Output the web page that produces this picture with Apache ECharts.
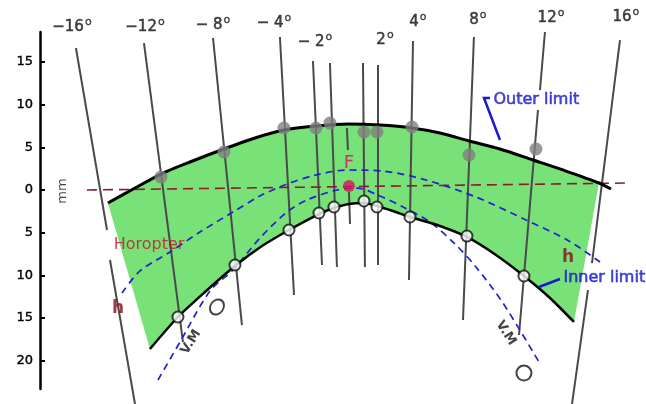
<!DOCTYPE html>
<html><head><meta charset="utf-8">
<script src="https://cdn.jsdelivr.net/npm/echarts@6/dist/echarts.min.js"></script>
<style>html,body{margin:0;padding:0;background:#fff}#c{width:646px;height:404px}</style>
</head><body><div id="c"></div>
<script>
// ---- data (x: lateral units, y: mm; + = far, - = near) ----
const yTickValues = [-20, -15, -10, -5, 0, 5, 10, 15];

const angleLabels = ['\u221216', '\u221212', '\u2212 8', '\u2212 4', '\u2212 2', '2', '4', '8', '12', '16'];
const angleLabelX = [-32.26, -23.70, -15.73, -8.59, -3.78, 4.42, 8.28, 15.31, 23.87, 32.65];
const angleLabelY = [19.08, 19.08, 19.32, 19.55, 17.33, 17.56, 19.67, 19.90, 20.14, 20.26];

// visual-direction lines: [xTop, yTop, xBottom, yBottom]
const radialSegments = [
  [-31.79, 16.63, -28.15, -4.68],
  [-27.80, -8.20, -24.87, -25.06],
  [-23.82, 17.21, -19.25, -17.80],
  [-15.73, 17.80, -12.34, -15.81],
  [-7.89, 17.91, -6.24, -12.29],
  [-4.02, 15.10, -2.96, -8.78],
  [-2.03, 14.87, -1.21, -9.02],
  [-0.04, 7.26, 0.08, 4.68],
  [0.20, -0.23, 0.32, -3.98],
  [1.84, 14.87, 2.07, -9.02],
  [3.60, 14.64, 3.60, -8.78],
  [7.70, 17.45, 7.23, -10.54],
  [14.84, 17.91, 13.56, -15.22],
  [23.16, 18.50, 22.58, 11.71],
  [22.34, 9.37, 20.12, -16.98],
  [31.95, 17.56, 28.67, -8.55],
  [28.20, -11.71, 26.33, -25.06]
];

const outerX = [-28.04, -24.87, -21.83, -18.43, -14.45, -10.81, -7.42, -3.67, 0.08, 3.83, 7.58, 10.86, 14.26, 17.89, 21.76, 25.62, 29.49, 30.90];
const outerY = [-1.52, 0.23, 1.87, 3.28, 4.80, 6.09, 7.02, 7.49, 7.73, 7.61, 7.26, 6.67, 5.74, 4.80, 3.51, 2.22, 0.82, 0.12];

const innerX = [-23.12, -19.84, -16.67, -13.16, -9.99, -6.83, -3.32, -1.56, 0.20, 1.96, 3.48, 5.35, 7.35, 10.86, 14.02, 17.42, 20.70, 23.75, 26.56];
const innerY = [-18.62, -14.87, -11.94, -8.90, -6.56, -4.68, -2.81, -2.11, -1.64, -1.52, -1.87, -2.46, -3.16, -4.21, -5.50, -7.61, -10.07, -12.64, -15.45];

const outerDotX = [-21.83, -14.45, -7.42, -3.67, -2.03, 1.96, 3.48, 7.58, 14.26, 22.11];
const outerDotY = [1.52, 4.45, 7.26, 7.26, 7.84, 6.79, 6.79, 7.38, 4.10, 4.80];

const innerDotX = [-19.84, -13.16, -6.83, -3.32, -1.56, 1.96, 3.48, 7.35, 14.02, 20.70];
const innerDotY = [-14.87, -8.78, -4.68, -2.69, -1.99, -1.29, -1.99, -3.16, -5.39, -10.07];

const hCurveX = [-26.40, -24.29, -20.77, -17.26, -13.39, -10.23, -7.06, -3.67, -0.04, 4.18, 9.22, 15.08, 20.94, 25.97, 29.61];
const hCurveY = [-12.06, -9.48, -7.26, -4.92, -2.58, -0.70, 0.70, 1.76, 2.34, 2.22, 1.17, -0.82, -3.51, -5.97, -8.43];

const vmCurveX = [-22.18, -19.60, -16.09, -13.39, -10.23, -7.06, -4.72, -1.21, 1.14, 3.83, 6.76, 9.69, 12.62, 15.08, 18.24, 22.46];
const vmCurveY = [-22.25, -17.80, -11.83, -9.37, -5.62, -2.58, -1.17, 0.00, 0.23, -0.70, -2.11, -3.75, -6.32, -9.02, -13.23, -20.14];

const horopterX = [-30.50, 33.01];
const horopterY = [0.00, 0.82];

const fixationX = [0.20];
const fixationY = [0.47];

const openCircleX = [-15.27, 20.70];
const openCircleY = [-13.70, -21.43];

const noteTexts = ['Horopter', 'h', 'h', 'Outer limit', 'Inner limit', 'V.M', 'V.M', 'mm'];
const noteX = [-23.23, -26.87, 25.86, 17.07, 25.27, -18.31, 18.59, -33.31];
const noteY = [-6.44, -13.93, -7.96, 10.54, -10.30, -17.80, -16.74, -0.12];

const arrowOuter = [[16.72, 10.77], [16.02, 10.77], [17.89, 5.85]];
const arrowInner = [[24.92, -10.42], [22.46, -11.36]];

// ---- chart ----
const FONT = 'DejaVu Sans';
const zip = (xs, ys) => xs.map((x, i) => [x, ys[i]]);

const noteStyles = [
  {color: '#c8102e', fontSize: 16, position: 'inside'},
  {color: '#8b0a1a', fontSize: 17, fontWeight: 'bold', position: 'inside'},
  {color: '#8b0a1a', fontSize: 17, fontWeight: 'bold', position: 'inside'},
  {color: '#1a1acc', fontSize: 16, position: 'right', textBorderColor: '#1a1acc', textBorderWidth: 0.6},
  {color: '#1a1acc', fontSize: 16, position: 'right', textBorderColor: '#1a1acc', textBorderWidth: 0.6},
  {color: '#111', fontSize: 13, fontWeight: 'bold', position: 'inside', rotate: 58},
  {color: '#111', fontSize: 13, fontWeight: 'bold', position: 'inside', rotate: -58},
  {color: '#111', fontSize: 13, position: 'inside', rotate: 90}
];

const option = {
  animation: false,
  grid: {left: 40, right: 0, top: 32, bottom: 15},
  xAxis: {type: 'value', min: -36, max: 35, show: false},
  yAxis: {
    type: 'value', min: -23.3, max: 18.5,
    axisLine: {show: true, onZero: false, lineStyle: {color: '#000', width: 2.5}},
    axisTick: {show: true, inside: true, length: 5, lineStyle: {color: '#000', width: 2}, customValues: yTickValues},
    axisLabel: {customValues: yTickValues, formatter: v => String(Math.abs(v)), fontSize: 13, fontFamily: FONT,
      color: '#000', margin: 7, textBorderColor: '#000', textBorderWidth: 0.4},
    splitLine: {show: false}
  },
  series: [
    {
      type: 'custom', coordinateSystem: 'cartesian2d', clip: false, silent: true, z: 1,
      data: [[0, 0]],
      renderItem: (params, api) => {
        const pts = [];
        for (let i = 0; i < outerX.length - 1; i++) pts.push(api.coord([outerX[i], outerY[i]]));
        for (let i = innerX.length - 1; i >= 0; i--) pts.push(api.coord([innerX[i], innerY[i]]));
        return {type: 'polygon', shape: {points: pts}, style: {fill: '#78e178'}};
      }
    },
    {
      type: 'lines', coordinateSystem: 'cartesian2d', clip: false, silent: true, z: 2,
      lineStyle: {color: '#4a4a4a', width: 2, opacity: 1},
      data: radialSegments.map(s => ({coords: [[s[0], s[1]], [s[2], s[3]]]}))
    },
    {
      type: 'line', clip: false, silent: true, z: 3, symbol: 'none',
      lineStyle: {color: '#8b1c2c', width: 1.6, type: [10, 6]},
      data: zip(horopterX, horopterY)
    },
    {
      type: 'line', clip: false, silent: true, z: 3, symbol: 'none', smooth: 0.3,
      lineStyle: {color: '#2222cc', width: 1.7, type: [7, 5]},
      data: zip(hCurveX, hCurveY)
    },
    {
      type: 'line', clip: false, silent: true, z: 3, symbol: 'none', smooth: 0.3,
      lineStyle: {color: '#2222cc', width: 1.7, type: [7, 5]},
      data: zip(vmCurveX, vmCurveY)
    },
    {
      type: 'line', clip: false, silent: true, z: 4, symbol: 'none', smooth: 0.25,
      lineStyle: {color: '#000', width: 3},
      data: zip(outerX, outerY)
    },
    {
      type: 'line', clip: false, silent: true, z: 4, symbol: 'none', smooth: 0.25,
      lineStyle: {color: '#000', width: 2.5},
      data: zip(innerX, innerY)
    },
    {
      type: 'lines', coordinateSystem: 'cartesian2d', clip: false, silent: true, z: 5,
      polyline: true, symbol: ['none', 'arrow'], symbolSize: 10,
      lineStyle: {color: '#1a1acc', width: 2.5, opacity: 1},
      data: [{coords: arrowOuter}, {coords: arrowInner}]
    },
    {
      type: 'scatter', clip: false, silent: true, z: 6, symbol: 'circle', symbolSize: 13,
      itemStyle: {color: '#7f7f7f'},
      data: zip(outerDotX, outerDotY)
    },
    {
      type: 'scatter', clip: false, silent: true, z: 6, symbol: 'circle', symbolSize: 11,
      itemStyle: {color: '#fff', borderColor: '#111', borderWidth: 2},
      data: zip(innerDotX, innerDotY)
    },
    {
      type: 'scatter', clip: false, silent: true, z: 6, symbol: 'circle',
      itemStyle: {color: '#fff', borderColor: '#111', borderWidth: 2},
      data: openCircleX.map((x, i) => ({value: [x, openCircleY[i]], symbolSize: i === 0 ? [13, 16] : [15, 15], symbolRotate: i === 0 ? -35 : 0}))
    },
    {
      type: 'scatter', clip: false, silent: true, z: 6, symbol: 'circle', symbolSize: 12,
      itemStyle: {color: '#d4145a'},
      label: {show: true, position: 'top', distance: 8, formatter: 'F', color: '#d0105a', fontSize: 18, fontFamily: FONT},
      data: zip(fixationX, fixationY)
    },
    {
      type: 'scatter', clip: false, silent: true, z: 7, symbol: 'circle', symbolSize: 1,
      itemStyle: {color: 'rgba(0,0,0,0)'},
      data: angleLabels.map((t, i) => ({
        value: [angleLabelX[i], angleLabelY[i]],
        label: {
          show: true, position: 'inside', formatter: '{n|' + t + '}{s|o}',
          rich: {
            n: {fontSize: 15, fontFamily: FONT, color: '#111', lineHeight: 20, textBorderColor: '#111', textBorderWidth: 0.5},
            s: {fontSize: 11, fontFamily: FONT, color: '#111', lineHeight: 10, padding: [0, 0, 10, 1], textBorderColor: '#111', textBorderWidth: 0.3}
          }
        }
      }))
    },
    {
      type: 'scatter', clip: false, silent: true, z: 7, symbol: 'circle', symbolSize: 1,
      itemStyle: {color: 'rgba(0,0,0,0)'},
      data: noteTexts.map((t, i) => ({
        value: [noteX[i], noteY[i]],
        label: Object.assign({show: true, formatter: t, fontFamily: FONT, distance: 0}, noteStyles[i])
      }))
    }
  ]
};

const chart = echarts.init(document.getElementById('c'), null, {renderer: 'canvas'});
chart.setOption(option);
</script></body></html>
